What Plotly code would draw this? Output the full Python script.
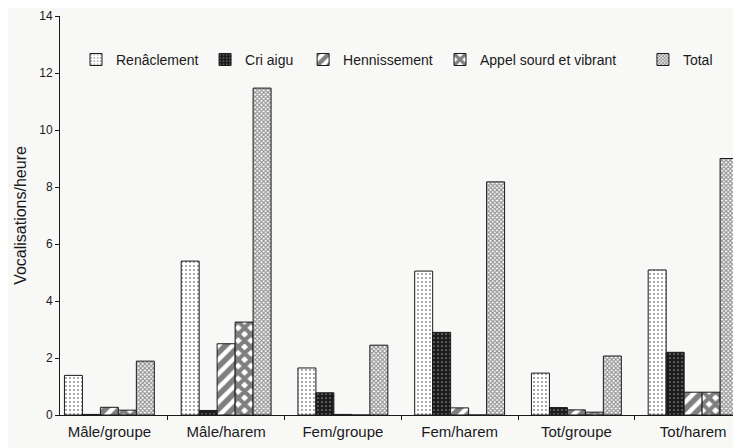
import plotly.graph_objects as go

categories = ["Mâle/groupe", "Mâle/harem", "Fem/groupe", "Fem/harem", "Tot/groupe", "Tot/harem"]
renaclement = [1.39, 5.40, 1.65, 5.05, 1.47, 5.09]
cri_aigu = [0.02, 0.16, 0.78, 2.90, 0.26, 2.20]
hennissement = [0.27, 2.50, 0.02, 0.25, 0.18, 0.80]
appel = [0.17, 3.26, 0.0, 0.0, 0.10, 0.80]
total = [1.89, 11.47, 2.45, 8.18, 2.07, 9.00]
y_ticks = [0, 2, 4, 6, 8, 10, 12, 14]

FONT = "Arial, Liberation Sans, sans-serif"
INK = "#1a1a1a"
BG = "#f8f8f7"

series = [
    ("Renâclement", renaclement, dict(shape=".", fgcolor="#111", bgcolor="white", size=4, solidity=0.18), "legend", 0.0235),
    ("Cri aigu", cri_aigu, dict(shape=".", fgcolor="white", bgcolor="#1c1c1c", size=4, solidity=0.15), "legend2", 0.213),
    ("Hennissement", hennissement, dict(shape="/", fgcolor="black", bgcolor="white", size=10, solidity=0.55), "legend3", 0.357),
    ("Appel sourd et vibrant", appel, dict(shape="x", fgcolor="black", bgcolor="white", size=9, solidity=0.7), "legend4", 0.558),
    ("Total", total, dict(shape="x", fgcolor="#222", bgcolor="white", size=3, solidity=0.6), "legend5", 0.856),
]

fig = go.Figure()
legend_layout = {}
for name, vals, pat, leg, lx in series:
    fig.add_trace(go.Bar(
        name=name, x=categories, y=vals, legend=leg,
        marker=dict(color=pat["bgcolor"], pattern=pat, line=dict(color=INK, width=1)),
    ))
    legend_layout[leg] = dict(orientation="h", x=lx, y=0.89, yanchor="middle", xanchor="left",
                              font=dict(size=14, family=FONT, color=INK),
                              bgcolor="rgba(0,0,0,0)", itemwidth=30)

# page body has an 8px default margin, so the figure is offset by 8px
fig.update_layout(
    width=733, height=440,
    margin=dict(l=52, r=0, t=8, b=33),
    paper_bgcolor=BG, plot_bgcolor=BG,
    barmode="group", bargap=0.23, bargroupgap=0,
    font=dict(family=FONT, color=INK),
    showlegend=True,
    **legend_layout,
)
fig.update_yaxes(
    range=[0, 14], tickvals=y_ticks, ticktext=[str(v) for v in y_ticks], automargin=False,
    showgrid=False, zeroline=False, showline=True, linecolor=INK, linewidth=1,
    ticks="outside", ticklen=4, tickcolor=INK, tickfont=dict(size=12, family=FONT, color=INK),
    title=dict(text="Vocalisations/heure", font=dict(size=16, family=FONT, color=INK), standoff=8),
)
fig.update_xaxes(
    range=[-0.423, 5.41], showgrid=False, showline=True, linecolor=INK, linewidth=1, automargin=False,
    ticks="outside", tickson="boundaries", ticklen=4, tickcolor=INK,
    tickfont=dict(size=15, family=FONT, color=INK), ticklabelstandoff=3,
)
fig.write_html("out.html")
